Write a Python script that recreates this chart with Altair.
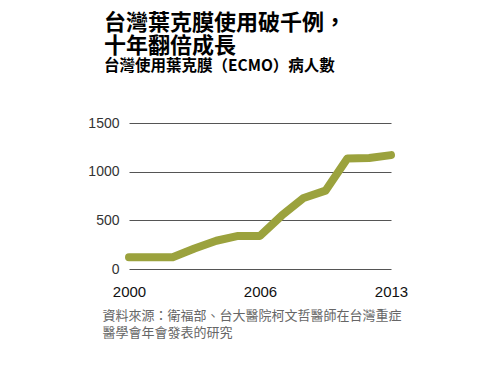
import altair as alt
import pandas as pd

# Data
point_index = list(range(13))
patients = [120, 120, 120, 210, 290, 340, 340, 550, 730, 805, 1135, 1140, 1170]
tick_positions = [0, 6, 12]
tick_labels = ["2000", "2006", "2013"]
y_ticks = [0, 500, 1000, 1500]

title_lines = ["台灣葉克膜使用破千例，", "十年翻倍成長"]
subtitle = "台灣使用葉克膜（ECMO）病人數"
source_lines = ["資料來源：衛福部、台大醫院柯文哲醫師在台灣重症", "醫學會年會發表的研究"]

df = pd.DataFrame({"i": point_index, "n": patients})

label_expr = " : ".join(
    f"datum.value == {p} ? '{l}'" for p, l in zip(tick_positions[:-1], tick_labels[:-1])
) + f" : '{tick_labels[-1]}'"

CJK = "Noto Sans CJK TC"
LAT = "Liberation Sans"

chart = (
    alt.Chart(df)
    .mark_line(color="#9ba23d", strokeWidth=8, strokeCap="round", strokeJoin="round")
    .encode(
        x=alt.X(
            "i:Q",
            scale=alt.Scale(domain=[0, 12], nice=False, zero=False),
            axis=alt.Axis(
                values=tick_positions,
                labelExpr=label_expr,
                grid=False,
                domain=False,
                ticks=False,
                labelFont=LAT,
                labelFontSize=15,
                labelColor="#111",
                labelPadding=15,
                labelFlush=False,
                title=source_lines,
                titleFont=CJK,
                titleFontSize=13,
                titleFontWeight="normal",
                titleColor="#666",
                titleLineHeight=17,
                titleAnchor="start",
                titleAlign="left",
                titleBaseline="top",
                titleX=-27,
                titleY=40,
            ),
        ),
        y=alt.Y(
            "n:Q",
            scale=alt.Scale(domain=[0, 1500], nice=False),
            axis=alt.Axis(
                values=y_ticks,
                format="d",
                grid=True,
                gridColor="#555",
                gridWidth=1,
                domain=False,
                ticks=False,
                labelFont=LAT,
                labelFontSize=14,
                labelColor="#333",
                labelPadding=10,
                title=None,
            ),
        ),
    )
    .properties(
        width=262,
        height=146,
        padding={"left": 79, "top": 3, "right": 20, "bottom": 5},
        title=alt.TitleParams(
            text=title_lines,
            subtitle=subtitle,
            anchor="start",
            frame="group",
            dx=-25,
            font=CJK,
            fontSize=22,
            fontWeight="bold",
            lineHeight=23,
            color="#000",
            subtitleFont=CJK,
            subtitleFontSize=15.5,
            subtitleFontWeight="bold",
            subtitleColor="#000",
            subtitlePadding=1,
            offset=41,
        ),
    )
    .configure_view(stroke=None)
)

chart.save("out.html", embed_options={"renderer": "svg", "actions": False})
